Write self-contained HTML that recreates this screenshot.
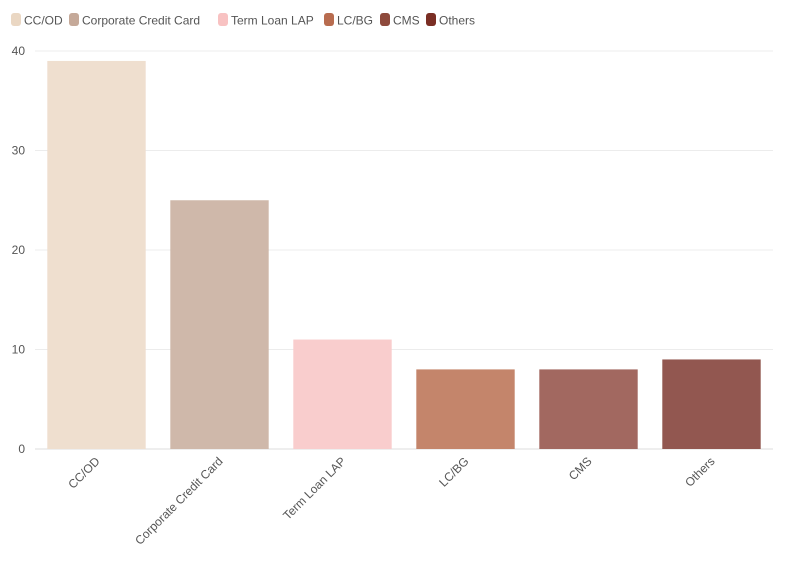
<!DOCTYPE html>
<html><head><meta charset="utf-8"><style>
body{margin:0;background:#fff;font-family:"Liberation Sans",sans-serif;}
svg text{font-family:"Liberation Sans",sans-serif;fill:#555;font-size:12px;}
</style></head><body>
<svg id="chart" width="794" height="575"></svg>
<script>
const categories=["CC/OD","Corporate Credit Card","Term Loan LAP","LC/BG","CMS","Others"];
const values=[39,25,11,8,8,9];
const ticks=[0,10,20,30,40];
const legendColors=["#EAD7C3","#C5A999","#F8C2C2","#B86C4F","#8E4A3C","#7A2E24"];
const barColors=["#EFDFCF","#CFB8AA","#F9CDCD","#C4856B","#A26860","#925750"];
const legendX=[11,69,218,324,380,426];
const NS="http://www.w3.org/2000/svg";
const svg=document.getElementById("chart");
const L=35,R=773,T=51,B=449;
const y=v=>B-(v/40)*(B-T);
const band=(R-L)/categories.length;
const x=i=>L+band*i;
function mk(t,a){const e=document.createElementNS(NS,t);for(const k in a)e.setAttribute(k,a[k]);svg.appendChild(e);return e;}
ticks.forEach(t=>{
 const g=mk("line",{x1:L,x2:R,y1:y(t),y2:y(t),stroke:t===0?"#ddd":"#ececec"});
 
 
 const tx=mk("text",{x:25,y:y(t)+4,"text-anchor":"end"});tx.textContent=t;
 
 
});
categories.forEach((c,i)=>{
 const bw=band*0.8;
 const r=mk("rect",{x:x(i)+band*0.1,y:y(values[i]),width:bw,height:B-y(values[i]),fill:barColors[i]});
 
 
 const cx=x(i)+band/2;
 const tx=mk("text",{x:cx+4,y:462,"text-anchor":"end",transform:`rotate(-45 ${cx+4} 462)`});
 tx.textContent=c;
 
 
 const s=mk("rect",{x:legendX[i],y:13,width:10,height:13,rx:3,fill:legendColors[i]});
 
 
 const lt=mk("text",{x:legendX[i]+13,y:24.5});lt.textContent=c;
 
 
});
</script>
</body></html>
